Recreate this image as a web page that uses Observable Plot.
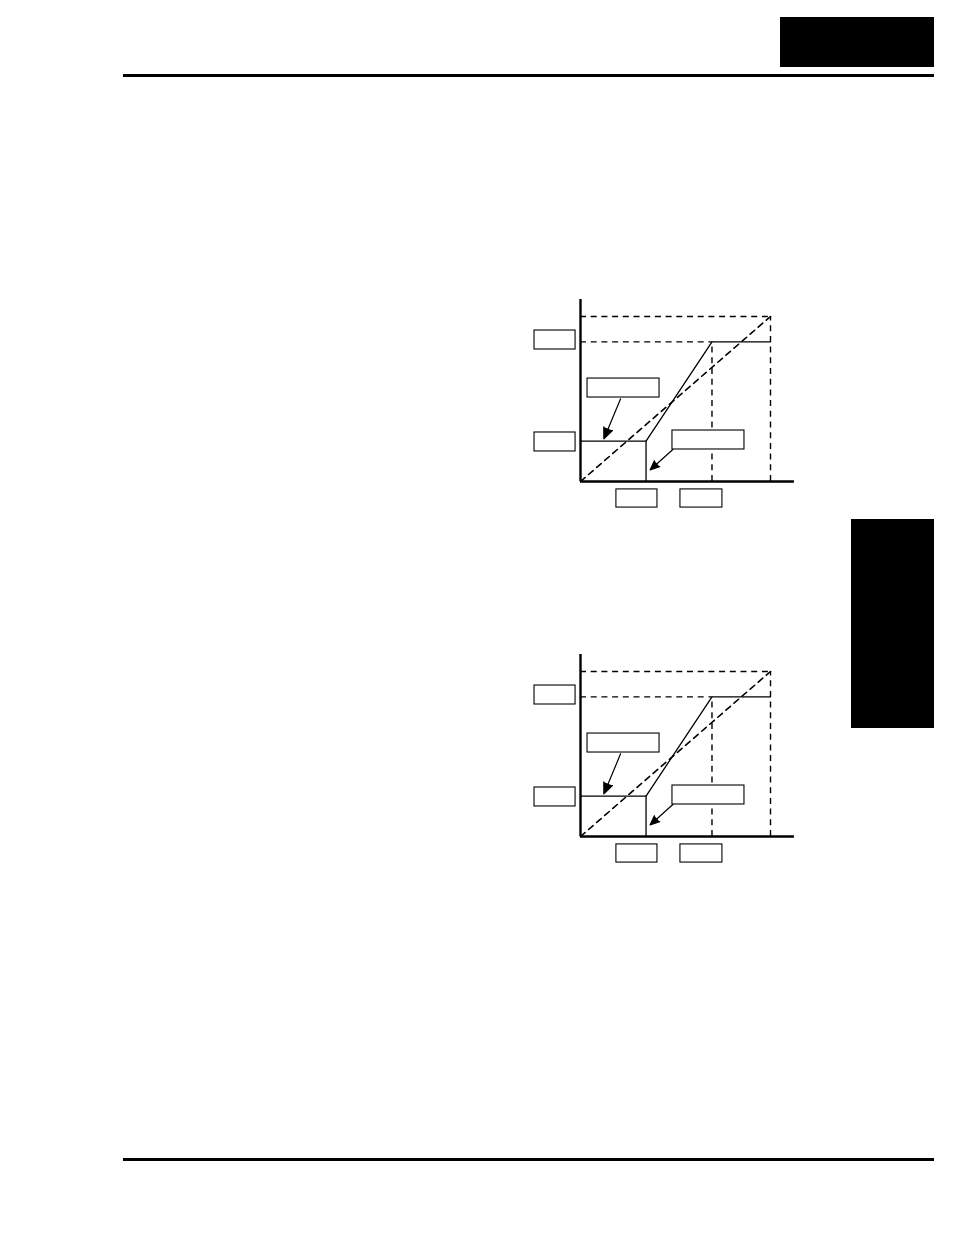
<!DOCTYPE html>
<html>
<head>
<meta charset="utf-8">
<script src="https://cdn.jsdelivr.net/npm/d3@7"></script>
<script src="https://cdn.jsdelivr.net/npm/@observablehq/plot@0.6"></script>
<style>
  html, body { margin: 0; padding: 0; background: #fff; }
  #page { position: relative; width: 954px; height: 1235px; overflow: hidden; background: #fff; font-family: "Liberation Sans", Arial, sans-serif; }
  .blk { position: absolute; background: #000; }
  .fig { position: absolute; }
  .fig svg { display: block; }
</style>
</head>
<body>
<div id="page">
  <div class="blk" style="left:780px; top:17px; width:154px; height:50px;"></div>
  <div class="blk" style="left:123px; top:74px; width:811px; height:3px;"></div>
  <div class="blk" style="left:851px; top:519px; width:83px; height:209px;"></div>
  <div class="blk" style="left:123px; top:1158px; width:811px; height:3px;"></div>
  <div class="fig" id="fig1" style="left:520px; top:290px;"></div>
  <div class="fig" id="fig2" style="left:520px; top:645px;"></div>
</div>
<script>
// Frequency (x) break points, percent of maximum
const freqPoints = [0, 34.5, 69.2, 100];
// Output (y) break points, percent of maximum
const outPoints = [0, 24.5, 84.6, 100];
// Axis extents (percent)
const xAxisEnd = 112.6;
const yAxisEnd = 110.3;

// Empty label boxes (data units)
const labelBoxes = [
  {x1: -24.2, x2: -2.6, y1: 80.0, y2: 91.5},
  {x1: -24.2, x2: -2.6, y1: 18.2, y2: 29.7},
  {x1: 3.7,  x2: 41.6, y1: 50.9, y2: 62.4},
  {x1: 48.4, x2: 86.3, y1: 19.4, y2: 30.9},
  {x1: 18.9, x2: 40.5, y1: -15.8, y2: -4.8},
  {x1: 52.6, x2: 74.7, y1: -15.8, y2: -4.8}
];
// Pointer arrows from label boxes
const pointers = [
  {x1: 21.1, y1: 50.1, x2: 12.3, y2: 25.8},
  {x1: 48.6, y1: 19.4, x2: 36.6, y2: 7.0}
];

function diagram() {
  const [x0, xa, xb, xm] = freqPoints;
  const [y0, ya, yb, ym] = outPoints;
  const solid = [[x0, ya], [xa, ya], [xb, yb], [xm, yb]];
  const diag = [[x0, y0], [xm, ym]];
  const dash = "6,4.7";
  return Plot.plot({
    width: 280,
    height: 225,
    marginLeft: 60,
    marginRight: 30,
    marginTop: 26,
    marginBottom: 34,
    x: {domain: [x0, xm], axis: null},
    y: {domain: [y0, ym], axis: null},
    style: {background: "white", overflow: "visible"},
    marks: [
      // dashed guides
      Plot.ruleY([ym], {x1: x0, x2: xm, stroke: "black", strokeWidth: 1.4, strokeDasharray: dash}),
      Plot.ruleY([yb], {x1: x0, x2: xb, stroke: "black", strokeWidth: 1.4, strokeDasharray: dash}),
      Plot.ruleX([xb], {y1: y0, y2: yb, stroke: "black", strokeWidth: 1.4, strokeDasharray: dash}),
      Plot.ruleX([xm], {y1: y0, y2: ym, stroke: "black", strokeWidth: 1.4, strokeDasharray: dash}),
      Plot.line(diag, {x: d => d[0], y: d => d[1], stroke: "black", strokeWidth: 1.6, strokeDasharray: dash}),
      // solid characteristic
      Plot.line(solid, {x: d => d[0], y: d => d[1], stroke: "black", strokeWidth: 1.3}),
      Plot.ruleX([xa], {y1: y0, y2: ya, stroke: "black", strokeWidth: 1.3}),
      // axes
      Plot.ruleX([x0], {y1: y0, y2: yAxisEnd, stroke: "black", strokeWidth: 2.4}),
      Plot.ruleY([y0], {x1: x0, x2: xAxisEnd, stroke: "black", strokeWidth: 2.4}),
      // label boxes
      Plot.rect(labelBoxes, {x1: "x1", x2: "x2", y1: "y1", y2: "y2", fill: "white", stroke: "black", strokeWidth: 1.1}),
      // pointers
      Plot.arrow(pointers, {x1: "x1", y1: "y1", x2: "x2", y2: "y2", stroke: "black", fill: "black", strokeWidth: 1.2, headLength: 15, headAngle: 46})
    ]
  });
}

document.getElementById("fig1").appendChild(diagram());
document.getElementById("fig2").appendChild(diagram());
</script>
</body>
</html>
